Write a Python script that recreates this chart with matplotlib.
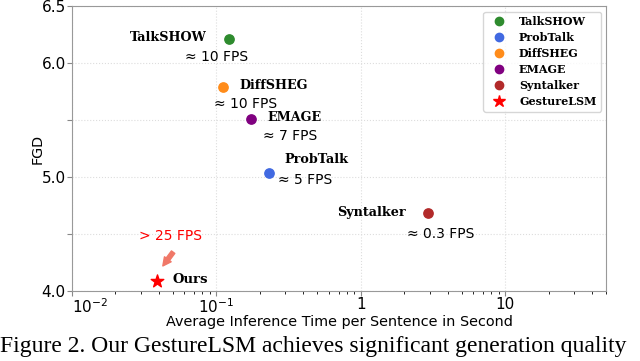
import numpy as np
import matplotlib
matplotlib.use('Agg')
import matplotlib.pyplot as plt
from matplotlib.lines import Line2D

# data
methods = ['TalkSHOW', 'ProbTalk', 'DiffSHEG', 'EMAGE', 'Syntalker']
times = [0.122, 0.23, 0.111, 0.173, 2.91]
fgd = [6.21, 5.035, 5.79, 5.51, 4.68]
fps_text = ['≈ 10 FPS', '≈ 5 FPS', '≈ 10 FPS', '≈ 7 FPS', '≈ 0.3 FPS']
colors = ['#2e8b2e', '#4169e1', '#ff8c1a', '#800080', '#b22a2a']

ours_time = 0.0387
ours_fgd = 4.09

# label offsets (points): name, fps
name_off = {'TalkSHOW': (-16, 1, 'right'), 'ProbTalk': (11, 10, 'left'),
            'DiffSHEG': (12, 1, 'left'), 'EMAGE': (12, 1, 'left'),
            'Syntalker': (-16, 1, 'right')}
fps_off = {'TalkSHOW': (-9, -13), 'ProbTalk': (26, -5), 'DiffSHEG': (16, -12),
           'EMAGE': (28, -12), 'Syntalker': (9, -14.5)}

fig = plt.figure(figsize=(6.4, 3.61), dpi=100)
ax = fig.add_axes([0.1125, 0.194, 0.835, 0.789])

for m, t, f, c, ft in zip(methods, times, fgd, colors, fps_text):
    ax.scatter(t, f, s=45, color=c, zorder=3)
    dx, dy, ha = name_off[m]
    ax.annotate(m, (t, f), xytext=(dx, dy), textcoords='offset points',
                ha=ha, va='center', family='DejaVu Serif', weight='bold', fontsize=9.2)
    dx, dy = fps_off[m]
    ax.annotate(ft, (t, f), xytext=(dx, dy), textcoords='offset points',
                ha='center', va='center', family='DejaVu Sans', fontsize=10)

ax.scatter(ours_time, ours_fgd, marker='*', s=90, color='red', zorder=3)
ax.annotate('Ours', (ours_time, ours_fgd), xytext=(11.5, 1), textcoords='offset points',
            ha='left', va='center', family='DejaVu Serif', weight='bold', fontsize=9.5)
ax.annotate('> 25 FPS', (ours_time, ours_fgd), xytext=(10, 32), textcoords='offset points',
            ha='center', va='center', color='red', family='DejaVu Sans', fontsize=10)
ax.annotate('', xy=(ours_time * 1.07, ours_fgd + 0.11), xytext=(ours_time * 1.33, ours_fgd + 0.27),
            arrowprops=dict(arrowstyle='simple,head_width=0.6,head_length=0.6,tail_width=0.3',
                            color='#f07868'))

ax.set_xscale('log')
ax.set_xlim(0.01, 50)
ax.set_ylim(4.0, 6.5)
ax.set_xticks([0.01, 0.1, 1, 10])
ax.set_xticklabels(['$10^{-2}$', '$10^{-1}$', '1', '10'])
ax.get_xticklabels()[0].set_ha('left')
ax.set_yticks([4.0, 4.5, 5.0, 5.5, 6.0, 6.5])
ax.set_yticklabels(['4.0', '', '5.0', '', '6.0', '6.5'])
ax.tick_params(labelsize=11, colors='#888888', labelcolor='black', pad=1)
ax.grid(True, linestyle=':', color='#dddddd', linewidth=0.8)
for s in ax.spines.values():
    s.set_color('#999999')
ax.set_xlabel('Average Inference Time per Sentence in Second', fontsize=10.4, labelpad=-1)
ax.set_ylabel('FGD', fontsize=10.4, labelpad=-2)

handles = [Line2D([], [], marker='o', ls='', color=c, markersize=6) for c in colors]
handles.append(Line2D([], [], marker='*', ls='', color='red', markersize=9))
ax.legend(handles, methods + ['GestureLSM'], loc='upper right',
          prop={'family': 'DejaVu Serif', 'weight': 'bold', 'size': 8},
          labelspacing=0.45, handletextpad=0.8, borderpad=0.4)

fig.text(0.0, 0.039, 'Figure 2. Our GestureLSM achieves significant generation quality',
         family='Liberation Serif', fontsize=17, va='center', ha='left')

fig.savefig('out.png', dpi=100)
